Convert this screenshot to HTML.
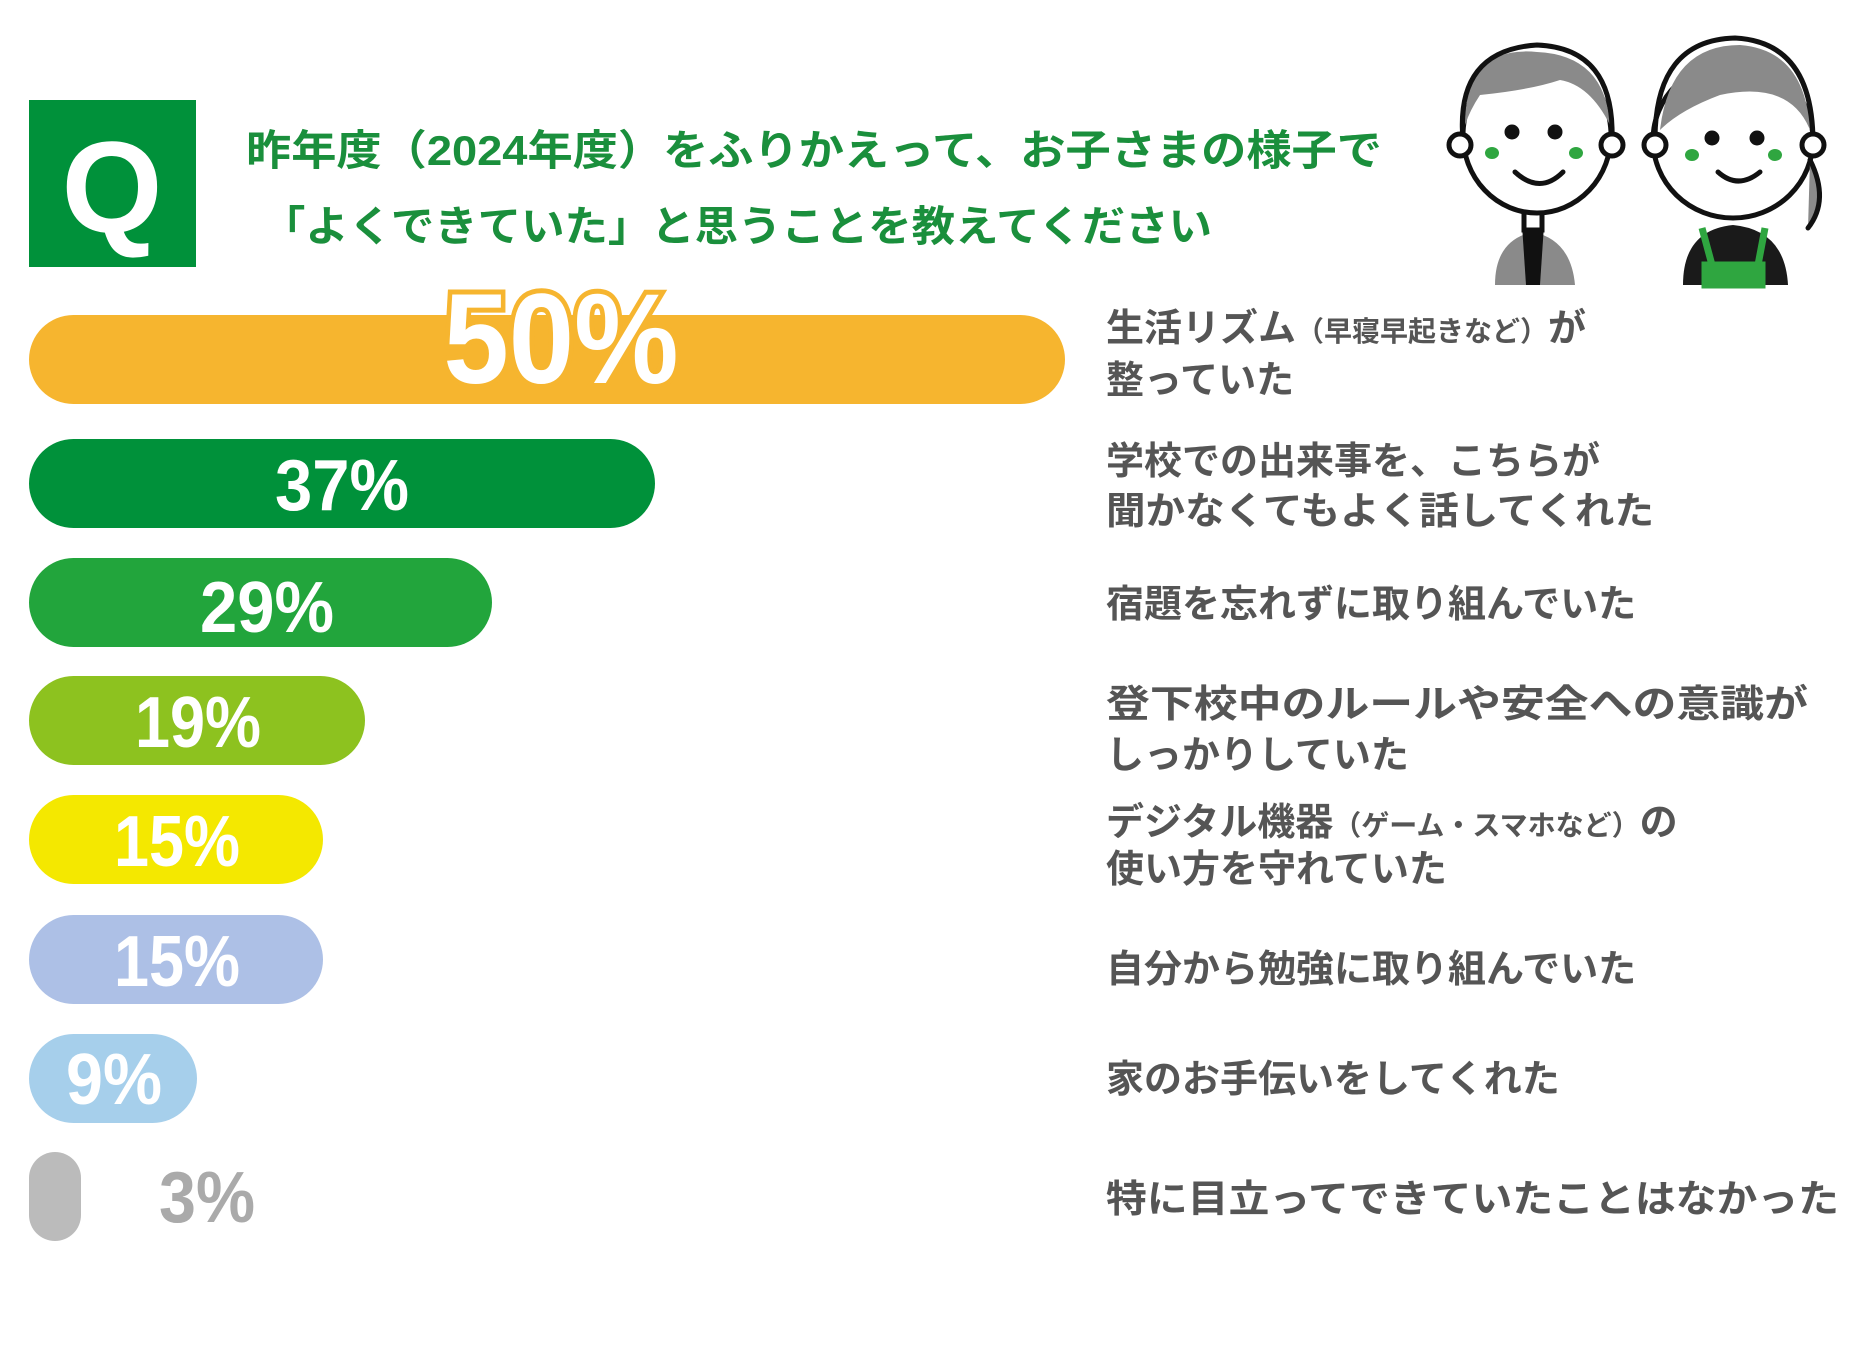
<!DOCTYPE html>
<html><head><meta charset="utf-8"><style>
html,body{margin:0;padding:0;background:#fff;}
svg{display:block;}
.lab{font-family:"Liberation Sans","Noto Sans CJK JP",sans-serif;font-weight:bold;fill:#555;font-size:38px;}
.sm{font-size:28px;}
.tt{font-family:"Liberation Sans","Noto Sans CJK JP",sans-serif;font-weight:bold;fill:#1a8f3c;font-size:42px;}
.pc{font-family:"Liberation Sans Narrow","Liberation Sans",sans-serif;font-weight:bold;fill:#fff;}
</style></head><body>
<svg width="1875" height="1350" viewBox="0 0 1875 1350" xmlns="http://www.w3.org/2000/svg">
<rect x="29" y="100" width="167" height="167" fill="#00913a"/>
<text x="112" y="232" text-anchor="middle" font-family="Liberation Sans,sans-serif" font-weight="bold" font-size="130" fill="#fff">Q</text>
<text class="tt" x="246" y="165" textLength="1136" lengthAdjust="spacingAndGlyphs">昨年度（2024年度）をふりかえって、お子さまの様子で</text>
<text class="tt" x="262" y="241" textLength="950" lengthAdjust="spacingAndGlyphs">「よくできていた」と思うことを教えてください</text>

<g stroke="#111" stroke-width="5" fill="none" stroke-linecap="round">
<path d="M1495 285 Q1495 240 1533 232 Q1571 240 1575 285 Z" fill="#8a8a8a" stroke="none"/>
<path d="M1522 225 L1544 225 L1540 285 L1526 285 Z" fill="#111" stroke="none"/>
<rect x="1524" y="205" width="18" height="25" fill="#fff"/>
<ellipse cx="1537" cy="135" rx="74" ry="78" fill="#fff"/>
<path d="M1465 125 Q1465 45 1537 52 Q1605 55 1610 125 Q1590 85 1560 80 Q1530 90 1480 95 Q1470 110 1465 125Z" fill="#8a8a8a" stroke="none"/>
<path d="M1463 140 Q1455 50 1537 45 Q1615 48 1612 140"/>
<circle cx="1460" cy="145" r="11" fill="#fff"/><circle cx="1612" cy="145" r="11" fill="#fff"/>
<path d="M1515 172 Q1540 195 1563 172"/>
<circle cx="1512" cy="132" r="5" fill="#111"/><circle cx="1555" cy="132" r="5" fill="#111"/>
<ellipse cx="1733" cy="140" rx="80" ry="78" fill="#fff"/>
<path d="M1660 130 Q1670 45 1740 45 Q1805 50 1810 130 Q1790 80 1720 95 Q1680 110 1660 130Z" fill="#8a8a8a" stroke="none"/>
<path d="M1655 140 Q1655 40 1735 38 Q1812 42 1813 140"/>
<path d="M1810 160 Q1830 200 1808 228" fill="#8a8a8a"/>
<circle cx="1655" cy="145" r="11" fill="#fff"/><circle cx="1813" cy="145" r="11" fill="#fff"/>
<path d="M1718 172 Q1738 190 1760 172"/>
<circle cx="1712" cy="138" r="5" fill="#111"/><circle cx="1757" cy="138" r="5" fill="#111"/>
</g>
<path d="M1683 285 Q1683 230 1733 225 Q1785 230 1788 285 Z" fill="#1a1a1a"/>
<path d="M1705 265 L1762 265 L1762 285 L1705 285 Z M1702 228 L1712 265 M1765 228 L1758 265" fill="#2fa640" stroke="#2fa640" stroke-width="7"/>
<g fill="#2fa640"><ellipse cx="1492" cy="153" rx="7" ry="6"/><ellipse cx="1576" cy="153" rx="7" ry="6"/><ellipse cx="1692" cy="155" rx="7" ry="6"/><ellipse cx="1775" cy="155" rx="7" ry="6"/></g>

<rect x="29" y="315" width="1036" height="89" rx="44.5" fill="#f6b52f"/>
<rect x="29" y="439" width="626" height="89" rx="44.5" fill="#00913a"/>
<rect x="29" y="558" width="463" height="89" rx="44.5" fill="#22a53c"/>
<rect x="29" y="676" width="336" height="89" rx="44.5" fill="#8dc21f"/>
<rect x="29" y="795" width="294" height="89" rx="44.5" fill="#f4e800"/>
<rect x="29" y="915" width="294" height="89" rx="44.5" fill="#adc0e6"/>
<rect x="29" y="1034" width="168" height="89" rx="44.5" fill="#a6cfeb"/>
<rect x="29" y="1152" width="52" height="89" rx="26" fill="#bbbbbb"/>

<text class="pc" x="561" y="383" text-anchor="middle" font-size="128" textLength="235" lengthAdjust="spacingAndGlyphs" stroke="#f6b52f" stroke-width="10" paint-order="stroke">50%</text>
<text class="pc" x="342" y="510" text-anchor="middle" font-size="72" textLength="134" lengthAdjust="spacingAndGlyphs">37%</text>
<text class="pc" x="267" y="632" text-anchor="middle" font-size="72" textLength="134" lengthAdjust="spacingAndGlyphs">29%</text>
<text class="pc" x="198" y="747" text-anchor="middle" font-size="72" textLength="126" lengthAdjust="spacingAndGlyphs">19%</text>
<text class="pc" x="177" y="866" text-anchor="middle" font-size="72" textLength="126" lengthAdjust="spacingAndGlyphs">15%</text>
<text class="pc" x="177" y="986" text-anchor="middle" font-size="72" textLength="126" lengthAdjust="spacingAndGlyphs">15%</text>
<text class="pc" x="114" y="1104" text-anchor="middle" font-size="72" textLength="96" lengthAdjust="spacingAndGlyphs">9%</text>
<text class="pc" x="207" y="1222" text-anchor="middle" font-size="72" textLength="96" lengthAdjust="spacingAndGlyphs" style="fill:#aaa">3%</text>

<text class="lab" x="1106" y="341">生活リズム<tspan class="sm">（早寝早起きなど）</tspan>が</text>
<text class="lab" x="1106" y="393">整っていた</text>
<text class="lab" x="1106" y="474">学校での出来事を、こちらが</text>
<text class="lab" x="1106" y="524" textLength="548" lengthAdjust="spacingAndGlyphs">聞かなくてもよく話してくれた</text>
<text class="lab" x="1106" y="617">宿題を忘れずに取り組んでいた</text>
<text class="lab" x="1106" y="717" textLength="702" lengthAdjust="spacingAndGlyphs">登下校中のルールや安全への意識が</text>
<text class="lab" x="1106" y="768">しっかりしていた</text>
<text class="lab" x="1106" y="835">デジタル機器<tspan class="sm">（ゲーム・スマホなど）</tspan>の</text>
<text class="lab" x="1106" y="882">使い方を守れていた</text>
<text class="lab" x="1106" y="982">自分から勉強に取り組んでいた</text>
<text class="lab" x="1106" y="1092">家のお手伝いをしてくれた</text>
<text class="lab" x="1106" y="1212" textLength="733" lengthAdjust="spacingAndGlyphs">特に目立ってできていたことはなかった</text>
</svg>
</body></html>
